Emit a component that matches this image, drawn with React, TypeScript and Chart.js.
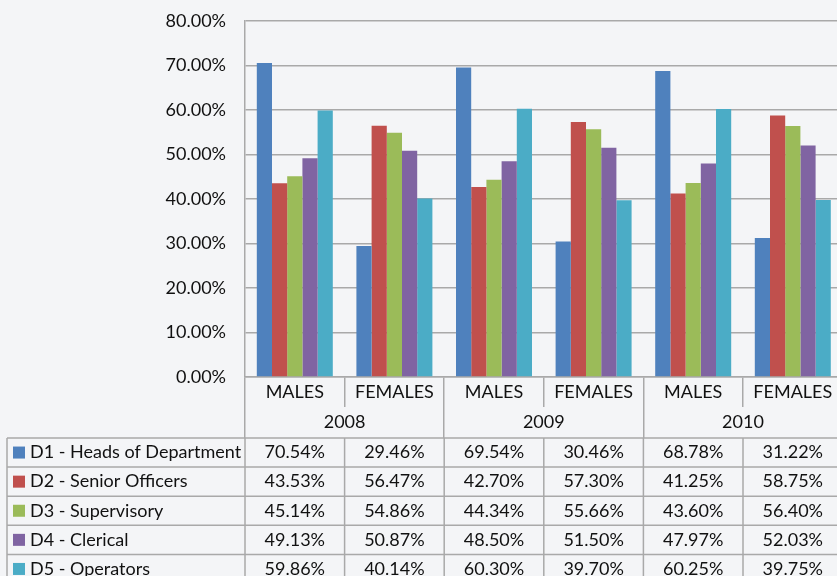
import React, { useEffect, useRef } from "react";
import { Chart, registerables } from "chart.js";

Chart.register(...registerables);

// ---- data ----
const categories = ["MALES", "FEMALES", "MALES", "FEMALES", "MALES", "FEMALES"];
const years = ["2008", "2009", "2010"];
const seriesNames = [
  "D1 - Heads of Department",
  "D2 - Senior Officers",
  "D3 - Supervisory",
  "D4 - Clerical",
  "D5 - Operators",
];
const d1HeadsOfDepartment = [70.54, 29.46, 69.54, 30.46, 68.78, 31.22];
const d2SeniorOfficers = [43.53, 56.47, 42.7, 57.3, 41.25, 58.75];
const d3Supervisory = [45.14, 54.86, 44.34, 55.66, 43.6, 56.4];
const d4Clerical = [49.13, 50.87, 48.5, 51.5, 47.97, 52.03];
const d5Operators = [59.86, 40.14, 60.3, 39.7, 60.25, 39.75];
const seriesValues = [d1HeadsOfDepartment, d2SeniorOfficers, d3Supervisory, d4Clerical, d5Operators];
const yMin = 0;
const yMax = 80;
const yStep = 10;

// ---- styles ----
const colors = ["#4F81BD", "#C0504D", "#9BBB59", "#8064A2", "#4BACC6"];
const FONT = "Lato, 'Open Sans', sans-serif";
const FONT_SIZE = 18;
const TEXT = "#111111";
const LINE = "#a9a9a9";
const BG = "#f4f5f7";
const CANVAS_W = 850;
const CANVAS_H = 576;

const fmt = (v: number) => v.toFixed(2) + "%";

const bgPlugin = {
  id: "bg",
  beforeDraw(chart: any) {
    const ctx = chart.ctx;
    ctx.save();
    ctx.fillStyle = BG;
    ctx.fillRect(0, 0, chart.width, chart.height);
    ctx.restore();
  },
};

const tablePlugin = {
  id: "dataTable",
  afterDraw(chart: any) {
    const ctx = chart.ctx;
    const xs = chart.scales.x;
    const n = categories.length;
    const step = xs.getPixelForValue(1) - xs.getPixelForValue(0);
    const bounds: number[] = [];
    for (let i = 0; i < n; i++) bounds.push(xs.getPixelForValue(i) - step / 2);
    bounds.push(xs.getPixelForValue(n - 1) + step / 2);
    const top = 438;
    const rowH = 29.1;
    const left = 7;
    const rows = seriesNames.length;
    ctx.save();
    ctx.strokeStyle = LINE;
    ctx.lineWidth = 1.5;
    ctx.beginPath();
    for (let r = 0; r <= rows; r++) {
      const y = top + r * rowH;
      ctx.moveTo(left, y);
      ctx.lineTo(bounds[n], y);
    }
    const vx = [left, ...bounds];
    for (const x of vx) {
      ctx.moveTo(x, top);
      ctx.lineTo(x, top + rows * rowH);
    }
    ctx.stroke();

    ctx.font = `${FONT_SIZE}px ${FONT}`;
    ctx.textBaseline = "middle";
    ctx.fillStyle = TEXT;
    for (let r = 0; r < rows; r++) {
      const yc = top + r * rowH + rowH / 2;
      ctx.fillStyle = colors[r];
      ctx.fillRect(13, yc - 6, 12, 12);
      ctx.fillStyle = TEXT;
      ctx.textAlign = "left";
      ctx.fillText(seriesNames[r], 30, yc);
      ctx.textAlign = "center";
      for (let c = 0; c < n; c++) {
        ctx.fillText(fmt(seriesValues[r][c]), (bounds[c] + bounds[c + 1]) / 2, yc);
      }
    }
    ctx.restore();
  },
};

export default function App() {
  const ref = useRef<HTMLCanvasElement | null>(null);
  useEffect(() => {
    if (!ref.current) return;
    const chart = new Chart(ref.current, {
      type: "bar",
      data: {
        labels: categories,
        datasets: seriesNames.map((name, i) => ({
          label: name,
          data: seriesValues[i],
          backgroundColor: colors[i],
          borderWidth: 0,
          categoryPercentage: 0.763,
          barPercentage: 1.0,
          xAxisID: "x",
        })),
      },
      options: {
        responsive: false,
        animation: false,
        layout: { padding: { left: 0, top: 21, right: 7.4, bottom: 0 } },
        plugins: { legend: { display: false }, tooltip: { enabled: false } },
        scales: {
          y: {
            min: yMin,
            max: yMax,
            ticks: {
              stepSize: yStep,
              padding: 19,
              color: TEXT,
              font: { family: FONT, size: FONT_SIZE },
              callback: (v: any) => fmt(Number(v)),
            },
            grid: { color: LINE, lineWidth: 1.5, drawTicks: false },
            border: { display: true, color: LINE, width: 1.5 },
            afterFit: (s: any) => {
              s.width = 245;
              s.paddingTop = 0;
              s.paddingBottom = 0;
            },
          },
          x: {
            type: "category",
            position: "bottom",
            weight: 0,
            offset: true,
            ticks: {
              autoSkip: false,
              maxRotation: 0,
              padding: -25.6,
              color: TEXT,
              font: { family: FONT, size: FONT_SIZE },
            },
            grid: {
              offset: true,
              drawOnChartArea: false,
              drawTicks: true,
              tickLength: 30,
              color: LINE,
              lineWidth: 1.5,
            },
            border: { display: true, color: LINE, width: 1.5 },
            afterFit: (s: any) => {
              s.height = 30;
              s.paddingLeft = 0;
              s.paddingRight = 0;
            },
          },
          x2: {
            type: "category",
            position: "bottom",
            weight: 1,
            labels: years,
            offset: true,
            ticks: {
              autoSkip: false,
              maxRotation: 0,
              padding: -26.3,
              color: TEXT,
              font: { family: FONT, size: FONT_SIZE },
            },
            grid: {
              offset: true,
              drawOnChartArea: false,
              drawTicks: true,
              tickLength: 31,
              color: LINE,
              lineWidth: 1.5,
            },
            border: { display: false },
            afterFit: (s: any) => {
              s.height = 169;
              s.paddingLeft = 0;
              s.paddingRight = 0;
            },
          },
        },
      },
      plugins: [bgPlugin, tablePlugin],
    } as any);
    return () => chart.destroy();
  }, []);

  return (
    <div
      style={{
        position: "fixed",
        left: 0,
        top: 0,
        width: 837,
        height: 576,
        overflow: "hidden",
        background: BG,
      }}
    >
      <canvas ref={ref} width={CANVAS_W} height={CANVAS_H} style={{ display: "block" }} />
    </div>
  );
}
